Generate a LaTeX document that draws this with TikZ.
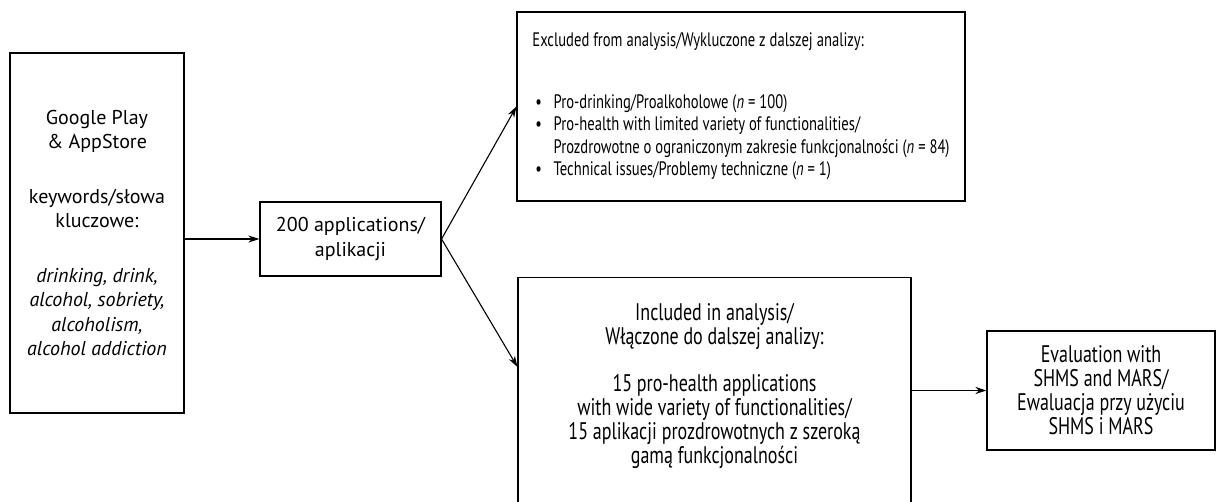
\documentclass[tikz,border=0pt]{standalone}
\usepackage{fontspec}
\setmainfont{PT Sans}
\newfontfamily\narrowfont[FakeStretch=0.75]{PT Sans}
\usetikzlibrary{arrows.meta}

\begin{document}
\begin{tikzpicture}[x=1pt, y=-1pt, >={Stealth[length=11pt, width=7pt]}, line width=1.1pt,
          box/.style={draw, rectangle, inner sep=0pt},
          widetext/.style={font=\fontsize{20}{24.5}\selectfont, align=center},
          narrowtext/.style={font=\narrowfont\fontsize{24}{24}\selectfont},
          smalltext/.style={font=\narrowfont\fontsize{19.5}{22.5}\selectfont}
        ]
        \useasboundingbox (0,0) rectangle (1217,502);

        \node[box, widetext, minimum width=174pt, minimum height=360pt] (src) at (97,233)
          {Google Play\\\& AppStore\\[30pt]keywords/słowa\\kluczowe:\\[30pt]
           \textit{drinking, drink,}\\\textit{alcohol, sobriety,}\\\textit{alcoholism,}\\\textit{alcohol addiction}};
        \node[box, widetext, minimum width=181pt, minimum height=74pt] (apps) at (350.5,239)
          {200 applications/\\aplikacji};
        \node[box, smalltext, align=left, minimum width=448pt, minimum height=189pt] (excl) at (741,106.5)
          {Excluded from analysis/Wykluczone z dalszej analizy:\\[39pt]
           \hspace{0.15em}\textbullet\hspace{0.6em}Pro-drinking/Proalkoholowe (\textit{n} = 100)\\
           \hspace{0.15em}\textbullet\hspace{0.6em}Pro-health with limited variety of functionalities/\\
           \hspace{0.15em}\hphantom{\textbullet\hspace{0.6em}}Prozdrowotne o ograniczonym zakresie funkcjonalności (\textit{n} = 84)\\
           \hspace{0.15em}\textbullet\hspace{0.6em}Technical issues/Problemy techniczne (\textit{n} = 1)};
        \node[box, minimum width=393pt, minimum height=240pt, anchor=north] (incl) at (714.5,277) {};
        \node[narrowtext, align=center] (incltext) at (714.5,386)
          {Included in analysis/\\Włączone do dalszej analizy:\\[23pt]
           15 pro-health applications\\with wide variety of functionalities/\\
           15 aplikacji prozdrowotnych z szeroką\\gamą funkcjonalności};
        \node[box, narrowtext, align=center, minimum width=228pt, minimum height=119pt] (eval) at (1101,390.5)
          {Evaluation with\\SHMS and MARS/\\Ewaluacja przy użyciu\\SHMS i MARS};

        % search -> pool
        \draw[->] (src.east |- apps.west) -- (apps.west);
        % pool -> excluded / included
        \draw[->] (apps.east) -- (excl.west);
        \draw[->] (apps.east) -- ([yshift=-90pt]incl.north west);
        % included -> evaluation
        \draw[->] (incl.east |- eval.west) -- (eval.west);
      \end{tikzpicture}
\end{document}
